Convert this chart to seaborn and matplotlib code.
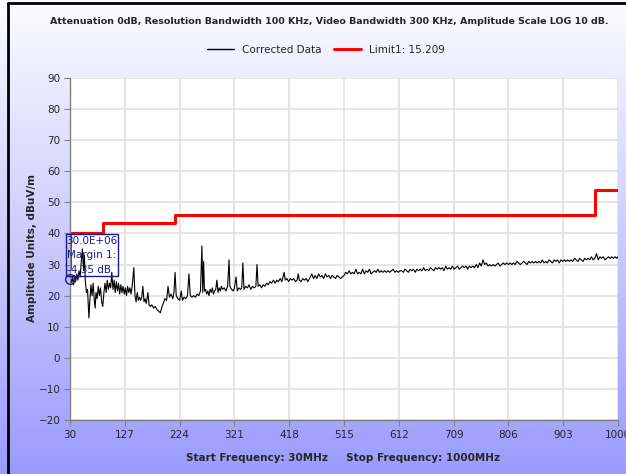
import matplotlib
matplotlib.use("Agg")
import matplotlib.pyplot as plt
import numpy as np
import seaborn as sns
from matplotlib.lines import Line2D
from matplotlib.patches import Rectangle

# corrected trace (MHz / dBuV/m), in three pieces
freq_low = [30, 32, 34, 36, 38, 40, 42, 44, 46, 48,
            50, 52, 54, 55.5, 57, 59, 61, 63.5, 65, 67,
            69, 71, 73, 74.5, 76, 78, 80, 82, 84, 86,
            88, 90, 92, 94, 96, 98, 100, 102, 104, 106,
            108, 110, 112, 114, 116, 118, 120, 122, 124, 126,
            128, 130, 132, 134, 136, 138, 140, 143, 145, 147,
            149, 151, 153]
level_low = [25.0, 24.0, 26.0, 23.5, 26.5, 24.5, 27.0, 25.0, 28.0, 26.0,
             31.0, 35.0, 28.0, 33.0, 25.0, 21.0, 22.0, 12.8, 18.0, 23.5,
             20.0, 24.0, 18.5, 16.0, 21.0, 19.0, 23.0, 20.0, 22.5, 18.0,
             16.5, 21.0, 24.0, 21.0, 25.0, 22.0, 24.0, 22.5, 27.5, 22.0,
             25.0, 21.0, 24.5, 21.5, 24.0, 20.5, 23.5, 21.0, 23.0, 20.5,
             22.5, 20.0, 23.0, 21.0, 22.5, 20.5, 23.0, 29.0, 20.0, 18.0,
             21.0, 18.5, 19.5]

freq_mid = [155, 157, 159, 161, 163, 165, 168, 170, 172, 175,
            178, 181, 184, 187, 190, 192, 195, 198, 201, 203.5,
            206, 209, 212, 214, 216, 218, 221, 224, 227, 229,
            232, 235, 238, 240.5, 243, 246, 249, 252, 255, 258,
            261, 263.5, 265, 266.5, 268, 270, 272, 274, 276, 278,
            280, 282, 284, 286, 288, 290, 292, 294, 296, 298,
            300, 303, 306, 309, 311.5, 313, 316, 319, 321, 324,
            326, 329, 332, 334, 336, 338, 341, 344, 347, 350,
            353, 356, 359, 361, 363, 366, 369, 372, 375, 378,
            381, 384, 387, 390, 393, 396, 399, 402, 405, 409,
            411, 414, 417, 420, 423, 426, 429, 432, 434, 436,
            439, 442, 445, 448, 451, 454, 458, 461, 464, 467,
            470, 473, 476, 479, 482, 485, 488, 491, 494, 497,
            500, 503, 506, 509, 512]
level_mid = [18.5, 19.5, 23.0, 18.0, 19.0, 17.5, 21.0, 17.0, 16.5, 17.0,
             16.0, 16.5, 15.5, 15.0, 14.5, 16.0, 17.5, 19.0, 18.5, 23.0,
             19.5, 20.5, 19.0, 21.0, 27.5, 20.0, 19.0, 18.5, 21.5, 18.5,
             19.5, 19.0, 20.0, 27.0, 20.0, 19.5, 20.0, 19.5, 20.5, 20.0,
             21.5, 36.0, 21.0, 31.0, 21.5, 22.0, 20.5, 21.5, 20.0, 22.0,
             21.0, 22.5, 20.5, 21.5, 22.0, 25.0, 21.0, 22.5, 21.5, 23.0,
             22.0, 22.5, 21.5, 23.0, 31.5, 23.0, 22.0, 21.5, 22.5, 26.0,
             21.5, 22.5, 22.0, 22.5, 30.5, 22.0, 23.0, 22.5, 23.5, 22.0,
             23.0, 22.5, 23.0, 30.0, 23.0, 23.5, 22.5, 23.5, 23.0, 24.0,
             23.5, 24.5, 24.0, 25.0, 24.0, 25.0, 24.5, 25.5, 24.5, 27.5,
             25.0, 25.5, 24.5, 25.5, 25.0, 25.5, 24.5, 25.0, 27.0, 25.0,
             24.5, 25.5, 25.0, 25.5, 24.5, 25.5, 27.0, 25.5, 26.5, 25.5,
             27.0, 26.0, 26.5, 25.5, 27.0, 26.0, 26.5, 25.5, 26.5, 26.0,
             25.5, 26.5, 26.0, 25.5, 26.0]

freq_high = [515, 518, 521, 524, 527, 530, 533, 536, 539, 542,
             545, 548, 551, 554, 557, 560, 563, 566, 569, 572,
             575, 578, 581, 584, 587, 590, 593, 596, 599, 602,
             605, 608, 611, 614, 617, 620, 623, 626, 629, 632,
             635, 638, 641, 644, 647, 650, 653, 656, 659, 662,
             665, 668, 671, 674, 677, 680, 683, 686, 689, 692,
             695, 698, 701, 704, 707, 710, 713, 716, 719, 722,
             725, 728, 731, 734, 737, 740, 743, 746, 749, 752,
             755, 758, 761, 764, 767, 770, 773, 776, 779, 782,
             785, 788, 791, 794, 797, 800, 803, 806, 809, 812,
             815, 818, 821, 824, 827, 830, 833, 836, 839, 842,
             845, 848, 851, 854, 857, 860, 863, 866, 869, 872,
             875, 878, 881, 884, 887, 890, 893, 896, 899, 902,
             905, 908, 911, 914, 917, 920, 923, 926, 929, 932,
             935, 938, 941, 944, 947, 950, 953, 956, 959, 962,
             965, 968, 971, 974, 977, 980, 983, 986, 989, 992,
             995, 998, 1000]
level_high = [26.5, 27.5, 27.0, 28.0, 27.0, 27.5, 27.0, 28.5, 27.0, 27.5,
              27.0, 28.5, 27.0, 28.0, 27.5, 28.5, 27.0, 27.5, 28.0, 27.5,
              28.5, 27.5, 28.0, 27.5, 28.0, 27.5, 28.0, 27.5, 28.0, 28.5,
              27.5, 28.0, 27.5, 28.0, 28.0, 27.5, 28.5, 28.0, 27.5, 28.5,
              28.0, 28.5, 27.5, 28.5, 28.0, 28.5, 28.0, 29.0, 28.0, 28.5,
              28.0, 29.0, 28.5, 28.0, 29.0, 28.5, 29.0, 28.5, 29.0, 28.0,
              29.5, 28.5, 29.0, 28.5, 29.5, 28.5, 29.0, 29.5, 28.5, 29.0,
              29.5, 29.0, 29.5, 28.5, 29.5, 29.0, 29.5, 29.0, 30.0, 29.0,
              30.5, 29.5, 31.5, 30.0, 30.5, 29.5, 30.0, 29.5, 30.0, 29.5,
              30.0, 30.5, 29.5, 30.0, 30.5, 30.0, 30.5, 30.0, 30.5, 30.0,
              30.5, 30.0, 31.0, 30.5, 30.0, 30.5, 31.0, 30.5, 30.0, 31.0,
              30.5, 31.0, 30.5, 31.0, 30.5, 31.0, 30.5, 31.5, 30.5, 31.0,
              30.5, 31.5, 31.0, 30.5, 31.5, 31.0, 31.5, 30.5, 31.5, 31.0,
              31.5, 31.0, 31.5, 31.0, 31.5, 31.0, 32.0, 31.5, 31.0, 32.0,
              31.5, 31.0, 32.0, 31.5, 32.0, 31.5, 32.5, 31.5, 32.0, 33.5,
              31.5, 32.5, 32.0, 32.5, 31.5, 32.0, 32.5, 32.0, 32.5, 32.0,
              32.5, 32.0, 32.5]

# limit line (steps), starts with a short rise at 30 MHz
limit_freq = [30, 30, 88, 88, 216, 216, 960, 960, 1000]
limit_level = [29, 40, 40, 43.5, 43.5, 46, 46, 54, 54]

x_ticks = [30, 127, 224, 321, 418, 515, 612, 709, 806, 903, 1000]
y_ticks = [-20, -10, 0, 10, 20, 30, 40, 50, 60, 70, 80, 90]

marker_freq = 30
marker_level = 25.2
marker_lines = ["30.0E+06", "Margin 1:", "-4.35 dB"]

title = ("Attenuation 0dB, Resolution Bandwidth 100 KHz, Video Bandwidth 300 KHz, "
         "Amplitude Scale LOG 10 dB.")

freq = freq_low + freq_mid + freq_high
level = level_low + level_mid + level_high

sns.set_style("white")
plt.rcParams["font.family"] = ["DejaVu Sans"]

W, H = 626, 474
fig = plt.figure(figsize=(W / 100, H / 100), dpi=100)

# gradient background
bg = fig.add_axes([0, 0, 1, 1], zorder=0)
t = np.linspace(0, 1, 300)[:, None]
top = np.array([252, 252, 255]) / 255
bot = np.array([155, 155, 253]) / 255
grad = top + (bot - top) * t[:, :, None]
bg.imshow(grad, aspect="auto", extent=[0, 1, 0, 1])
bg.set_xlim(0, 1)
bg.set_ylim(0, 1)
bg.axis("off")

ax = fig.add_axes([70 / W, 1 - 420 / H, 548 / W, 342 / H], zorder=1)
ax.set_facecolor("white")

sns.lineplot(x=freq, y=level, ax=ax, color="black", lw=0.8,
             estimator=None, sort=False)
sns.lineplot(x=limit_freq, y=limit_level, ax=ax, color="#ff0000", lw=2.2,
             estimator=None, sort=False)

ax.set_xlim(30, 1000)
ax.set_ylim(-20, 90)
ax.set_xticks(x_ticks)
ax.set_yticks(y_ticks)
ax.grid(True, color="#e2e2e2", lw=1.2)
ax.set_axisbelow(True)
for s in ["top", "right"]:
    ax.spines[s].set_visible(False)
for s in ["left", "bottom"]:
    ax.spines[s].set_color("#808080")
    ax.spines[s].set_linewidth(1)
ax.tick_params(axis="both", labelsize=7.5, length=4, color="#808080",
               direction="out", left=True, bottom=True, pad=3)
ax.set_xlabel("")
ax.set_ylabel("")

# margin marker
navy = "#1a1a8c"
ax.plot([marker_freq], [marker_level], "o", mfc="none", mec=navy, ms=7,
        mew=1, clip_on=False, zorder=5)
ax.add_patch(Rectangle((23, 26.3), 92, 13.5, fill=False, ec=navy, lw=1,
                       clip_on=False, zorder=5))
for i, txt in enumerate(marker_lines):
    ax.text(24, 37.6 - i * 4.6, txt, color=navy, fontsize=7.5,
            va="center", ha="left", zorder=6, clip_on=False)

fig.text(329 / W, 1 - 21 / H, title, ha="center", va="center",
         fontsize=6.8, fontweight="bold")
fig.text(32 / W, 1 - 248 / H, "Amplitude Units, dBuV/m", rotation=90,
         ha="center", va="center", fontsize=7.5, fontweight="bold")
fig.text(343 / W, 1 - 458 / H,
         "Start Frequency: 30MHz     Stop Frequency: 1000MHz",
         ha="center", va="center", fontsize=7.5, fontweight="bold")

handles = [Line2D([], [], color="black", lw=1),
           Line2D([], [], color="#ff0000", lw=2.2)]
fig.legend(handles, ["Corrected Data", "Limit1: 15.209"], loc="center",
           bbox_to_anchor=(326 / W, 1 - 50 / H), ncol=2, frameon=False,
           fontsize=7.5, handlelength=2.6, columnspacing=1.2,
           handletextpad=0.8)

# black frame on left and top
fig.add_artist(Line2D([8 / W, 8 / W], [0, 1 - 3 / H], color="black", lw=2,
                      transform=fig.transFigure))
fig.add_artist(Line2D([8 / W, 1], [1 - 3 / H, 1 - 3 / H], color="black",
                      lw=2, transform=fig.transFigure))

fig.savefig("out.png", dpi=100)
